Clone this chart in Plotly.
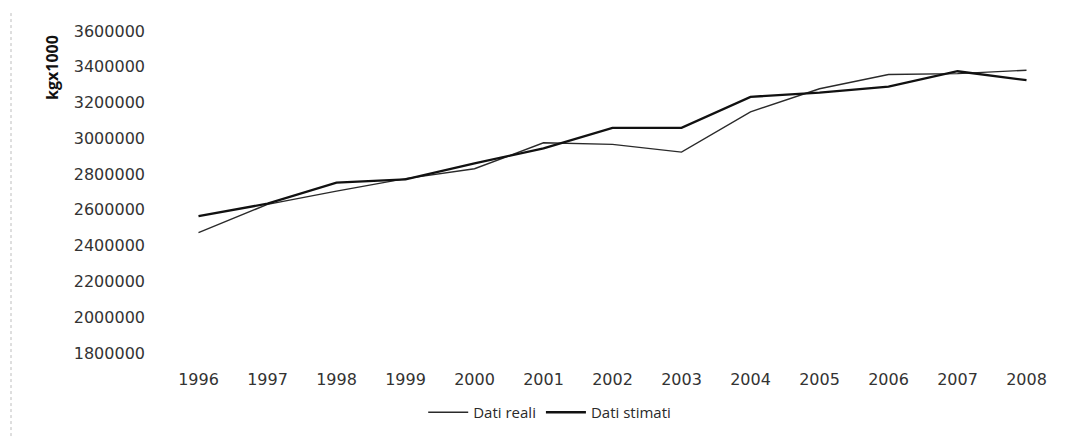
import plotly.graph_objects as go

anni = [1996, 1997, 1998, 1999, 2000, 2001, 2002, 2003, 2004, 2005, 2006, 2007, 2008]
dati_reali = [2473000, 2631000, 2705000, 2775000, 2830000, 2975000, 2966000,
              2923000, 3148000, 3277000, 3357000, 3362000, 3381000]
dati_stimati = [2565000, 2635000, 2752000, 2770000, 2860000, 2944000, 3059000,
                3059000, 3232000, 3255000, 3289000, 3375000, 3325000]
y_ticks = [1800000, 2000000, 2200000, 2400000, 2600000, 2800000,
           3000000, 3200000, 3400000, 3600000]

fnt = "DejaVu Sans"

# la pagina ha 8px di margine nel body: figura 1064x431
W, H = 1064, 431
L, R, T, B = 156, 11, 23, 85
pw, ph = W - L - R, H - T - B

fig = go.Figure()
fig.add_trace(go.Scatter(x=anni, y=dati_reali, mode="lines", name="Dati reali",
                         line=dict(color="#2a2a2a", width=1.4)))
fig.add_trace(go.Scatter(x=anni, y=dati_stimati, mode="lines", name="Dati stimati",
                         line=dict(color="#111111", width=2.3)))

fig.update_layout(
    width=W, height=H,
    margin=dict(l=L, r=R, t=T, b=B),
    paper_bgcolor="white", plot_bgcolor="white",
    font=dict(family=fnt, size=16, color="#333333"),
    showlegend=True,
    legend=dict(orientation="h", x=0.43, xanchor="center", y=-0.13, yanchor="top",
                font=dict(family="Open Sans", size=15, color="#2a2a2a"), itemwidth=40),
    xaxis=dict(range=[1995.5, 2008.5], tickmode="array", tickvals=anni,
               showgrid=False, zeroline=False, showline=False, ticks="",
               ticklabelstandoff=15),
    yaxis=dict(range=[1800000, 3600000], tickmode="array", tickvals=y_ticks,
               ticktext=[str(v) for v in y_ticks],
               showgrid=False, zeroline=False, showline=False, ticks="",
               ticklabelstandoff=18),
)

# asse y: titolo in alto
fig.add_annotation(text="<b>kgx1000</b>", textangle=-90, xref="paper", yref="paper",
                   x=(44 - L) / pw, y=(T + ph - 60) / ph, xanchor="center", yanchor="middle",
                   showarrow=False, font=dict(family="Open Sans", size=16, color="#111111"))

# bordo tratteggiato a sinistra
fig.add_shape(type="line", xref="paper", yref="paper",
              x0=(3 - L) / pw, x1=(3 - L) / pw, y0=(T + ph - 5) / ph, y1=-(B) / ph,
              line=dict(color="#bdbdbd", width=1, dash="dot"))

fig.write_html("out.html")
